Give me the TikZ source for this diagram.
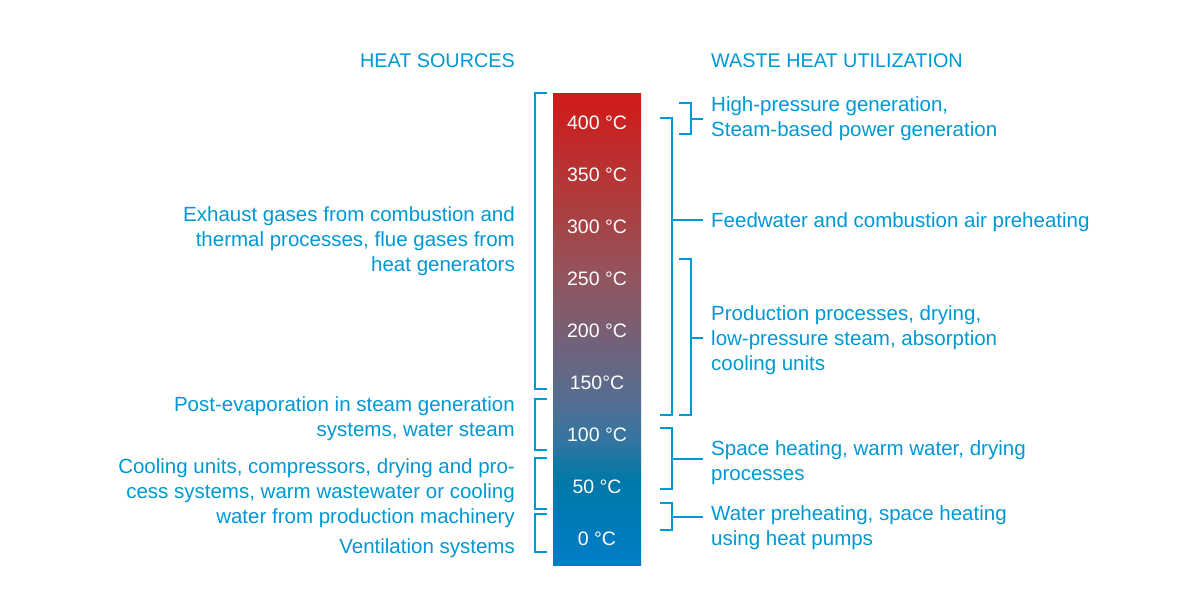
\documentclass[tikz,border=0pt]{standalone}
\usepackage{fontspec}
\setmainfont{Liberation Sans}
\definecolor{txt}{RGB}{0,152,212}
\definecolor{c0}{RGB}{0,125,200}
\definecolor{c1}{RGB}{0,120,168}
\definecolor{c2}{RGB}{50,118,160}
\definecolor{c3}{RGB}{85,110,145}
\definecolor{c4}{RGB}{115,97,120}
\definecolor{c5}{RGB}{145,85,95}
\definecolor{c6}{RGB}{175,60,60}
\definecolor{c7}{RGB}{210,25,25}
\pgfdeclareverticalshading{thermo}{100bp}{color(0bp)=(c0); color(25bp)=(c0); color(34bp)=(c1); color(38.2bp)=(c2); color(42.5bp)=(c3); color(48.8bp)=(c4); color(55.2bp)=(c5); color(63.7bp)=(c6); color(75bp)=(c7); color(100bp)=(c7)}
\tikzset{
  head/.style={text=txt, inner sep=0pt, font={\fontsize{19.8}{24}\selectfont}},
  lbl/.style={text=txt, inner sep=0pt, font={\fontsize{20.5}{25}\selectfont}},
  temp/.style={text=white, inner sep=0pt, font={\fontsize{19.5}{24}\selectfont}, anchor=base},
  brk/.style={draw=txt, line width=2pt}
}
\begin{document}
\begin{tikzpicture}[x=1pt,y=-1pt]
\useasboundingbox (0,0) rectangle (1200,600);
% bar
\node[shading=thermo, minimum width=88pt, minimum height=472pt, inner sep=0pt] (bar) at (597,329) {};
\foreach \t/\y in {400 °C/129.3, 350 °C/181.3, 300 °C/233.3, 250 °C/285.3, 200 °C/337.3, 150°C/389.3, 100 °C/441.3, 50 °C/493.3, 0 °C/545.3}{
  \node[temp] at (597,\y) {\t};
}
% headers
\node[head, anchor=base east] (hs) at (515,67) {HEAT SOURCES};
\node[head, anchor=base west] (wh) at (711,67) {WASTE HEAT UTILIZATION};
% left texts (anchor = baseline of last line)
\node[lbl, anchor=base east, align=right] (l1) at (515,271.7) {Exhaust gases from combustion and\\thermal processes, flue gases from\\heat generators};
\node[lbl, anchor=base east, align=right] (l2) at (515,436.7) {Post-evaporation in steam generation\\systems, water steam};
\node[lbl, anchor=base east, align=right] (l3) at (515,523) {Cooling units, compressors, drying and pro-\\cess systems, warm wastewater or cooling\\water from production machinery};
\node[lbl, anchor=base east, align=right] (l4) at (515,553.3) {Ventilation systems};
% right texts
\node[lbl, anchor=base west, align=left] (r1) at (711,136) {High-pressure generation,\\Steam-based power generation};
\node[lbl, anchor=base west, align=left] (r2) at (711,227) {Feedwater and combustion air preheating};
\node[lbl, anchor=base west, align=left] (r3) at (711,370) {Production processes, drying,\\low-pressure steam, absorption\\cooling units};
\node[lbl, anchor=base west, align=left] (r4) at (711,480) {Space heating, warm water, drying\\processes};
\node[lbl, anchor=base west, align=left] (r5) at (711,545) {Water preheating, space heating\\using heat pumps};
% left brackets
\draw[brk] (547,93) -- (535,93) -- (535,389) -- (547,389);
\draw[brk] (547,399) -- (535,399) -- (535,450) -- (547,450);
\draw[brk] (547,458) -- (535,458) -- (535,509) -- (547,509);
\draw[brk] (547,514) -- (535,514) -- (535,552) -- (547,552);
% right brackets
\draw[brk] (679,103) -- (691,103) -- (691,134) -- (679,134);
\draw[brk] (691,118.5) -- (703,118.5);
\draw[brk] (660,118) -- (672,118) -- (672,415) -- (660,415);
\draw[brk] (672,220) -- (703,220);
\draw[brk] (679,259) -- (691,259) -- (691,415) -- (679,415);
\draw[brk] (691,338) -- (703,338);
\draw[brk] (660,428) -- (672,428) -- (672,489) -- (660,489);
\draw[brk] (672,459) -- (703,459);
\draw[brk] (660,503) -- (672,503) -- (672,530) -- (660,530);
\draw[brk] (672,517) -- (703,517);
\end{tikzpicture}
\end{document}
